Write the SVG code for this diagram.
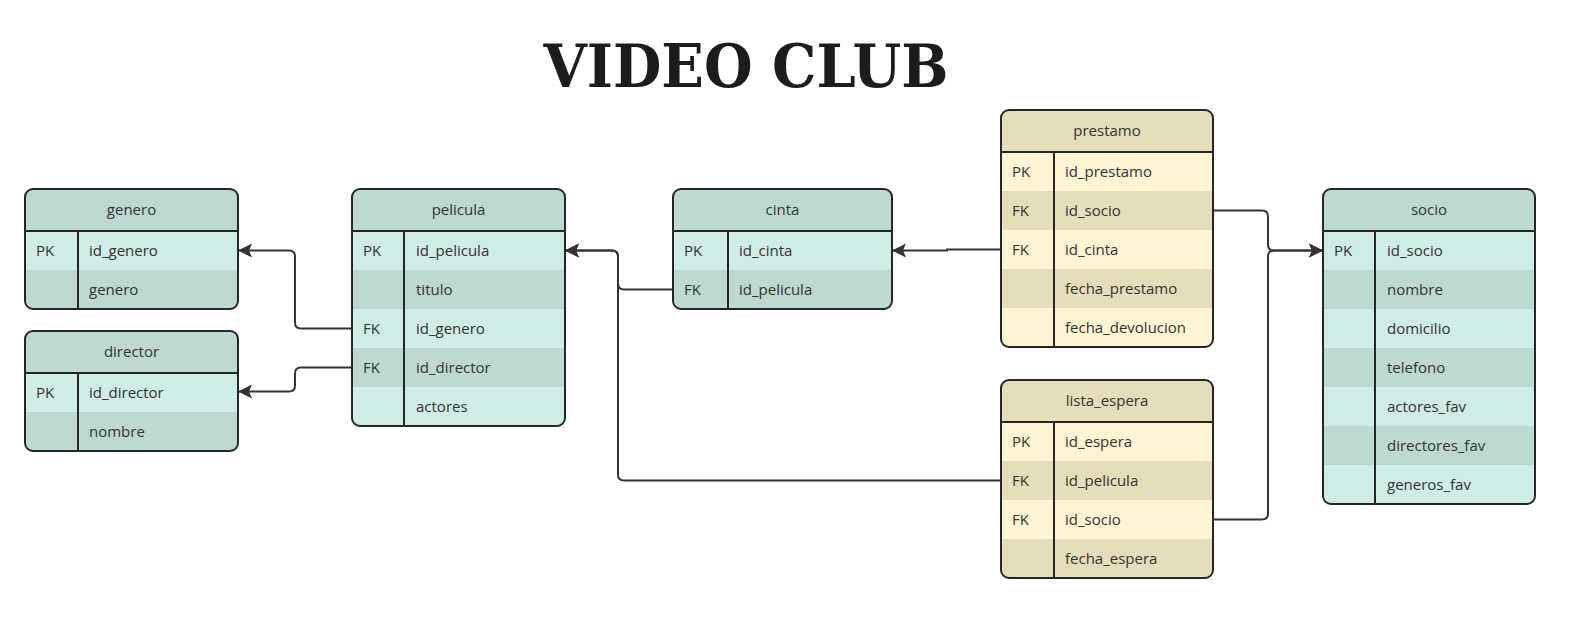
<svg xmlns="http://www.w3.org/2000/svg" width="1593" height="627" viewBox="0 0 1593 627">
<style>
.hdT{fill:#bdd9d2}.lT{fill:#cfece6}.dT{fill:#bdd9d2}
.hdY{fill:#e6ddbb}.lY{fill:#fff4d3}.dY{fill:#e6ddbb}
.frame{fill:none;stroke:#262626;stroke-width:2}
.sep{stroke:#262626;stroke-width:2}
.t{font-family:"Open Sans","Noto Sans",sans-serif;font-size:15px;fill:#333}
.h{text-anchor:middle}
.con{fill:none;stroke:#333;stroke-width:2;marker-end:url(#arr)}
.title{font-family:"DejaVu Serif",serif;font-weight:bold;font-size:60px;fill:#1c1c1c}
</style>
<defs>
<marker id="arr" markerUnits="userSpaceOnUse" markerWidth="16" markerHeight="16" refX="14" refY="8" orient="auto">
<path d="M0,1 L14,8 L0,15 L3,8 z" fill="#333"/>
</marker>
<clipPath id="cGenero"><rect x="25" y="189" width="213" height="120" rx="8"/></clipPath>
<clipPath id="cDirector"><rect x="25" y="331" width="213" height="120" rx="8"/></clipPath>
<clipPath id="cPelicula"><rect x="352" y="189" width="213" height="237" rx="8"/></clipPath>
<clipPath id="cCinta"><rect x="673" y="189" width="219" height="120" rx="8"/></clipPath>
<clipPath id="cPrestamo"><rect x="1001" y="110" width="212" height="237" rx="8"/></clipPath>
<clipPath id="cLista"><rect x="1001" y="380" width="212" height="198" rx="8"/></clipPath>
<clipPath id="cSocio"><rect x="1323" y="189" width="212" height="315" rx="8"/></clipPath>
</defs>
<rect width="1593" height="627" fill="#fff"/>
<text class="title" x="746" y="87" text-anchor="middle" textLength="405" lengthAdjust="spacingAndGlyphs">VIDEO CLUB</text>

<g id="connectors">
<path class="con" d="M352,328.5 H301 Q295,328.5 295,322.5 V256.5 Q295,250.5 289,250.5 H238"/>
<path class="con" d="M352,367.5 H301 Q295,367.5 295,373.5 V385.5 Q295,391.5 289,391.5 H238"/>
<path class="con" d="M673,289.5 H624 Q618,289.5 618,283.5 V256.5 Q618,250.5 612,250.5 H565"/>
<path class="con" d="M1001,480.5 H624 Q618,480.5 618,474.5 V256.5 Q618,250.5 612,250.5 H565"/>
<path class="con" d="M1001,249.5 H947 V250.5 H892"/>
<path class="con" d="M1213,210.5 H1262 Q1268,210.5 1268,216.5 V244.5 Q1268,250.5 1274,250.5 H1323"/>
<path class="con" d="M1213,519.5 H1262 Q1268,519.5 1268,513.5 V256.5 Q1268,250.5 1274,250.5 H1323"/>
</g>

<g id="genero">
<g clip-path="url(#cGenero)">
<rect class="hdT" x="25" y="189" width="213" height="42"/>
<rect class="lT" x="25" y="231" width="213" height="39"/>
<rect class="dT" x="25" y="270" width="213" height="39"/>
</g>
<rect class="frame" x="25" y="189" width="213" height="120" rx="8"/>
<line class="sep" x1="25" y1="231" x2="238" y2="231"/>
<line class="sep" x1="78" y1="231" x2="78" y2="309"/>
<text class="t h" x="131.5" y="215">genero</text>
<text class="t" x="36" y="255.5">PK</text><text class="t" x="89" y="255.5">id_genero</text>
<text class="t" x="89" y="294.5">genero</text>
</g>

<g id="director">
<g clip-path="url(#cDirector)">
<rect class="hdT" x="25" y="331" width="213" height="42"/>
<rect class="lT" x="25" y="373" width="213" height="39"/>
<rect class="dT" x="25" y="412" width="213" height="39"/>
</g>
<rect class="frame" x="25" y="331" width="213" height="120" rx="8"/>
<line class="sep" x1="25" y1="373" x2="238" y2="373"/>
<line class="sep" x1="78" y1="373" x2="78" y2="451"/>
<text class="t h" x="131.5" y="357">director</text>
<text class="t" x="36" y="397.5">PK</text><text class="t" x="89" y="397.5">id_director</text>
<text class="t" x="89" y="436.5">nombre</text>
</g>

<g id="pelicula">
<g clip-path="url(#cPelicula)">
<rect class="hdT" x="352" y="189" width="213" height="42"/>
<rect class="lT" x="352" y="231" width="213" height="39"/>
<rect class="dT" x="352" y="270" width="213" height="39"/>
<rect class="lT" x="352" y="309" width="213" height="39"/>
<rect class="dT" x="352" y="348" width="213" height="39"/>
<rect class="lT" x="352" y="387" width="213" height="39"/>
</g>
<rect class="frame" x="352" y="189" width="213" height="237" rx="8"/>
<line class="sep" x1="352" y1="231" x2="565" y2="231"/>
<line class="sep" x1="404" y1="231" x2="404" y2="426"/>
<text class="t h" x="458.5" y="215">pelicula</text>
<text class="t" x="363" y="255.5">PK</text><text class="t" x="416" y="255.5">id_pelicula</text>
<text class="t" x="416" y="294.5">titulo</text>
<text class="t" x="363" y="333.5">FK</text><text class="t" x="416" y="333.5">id_genero</text>
<text class="t" x="363" y="372.5">FK</text><text class="t" x="416" y="372.5">id_director</text>
<text class="t" x="416" y="411.5">actores</text>
</g>

<g id="cinta">
<g clip-path="url(#cCinta)">
<rect class="hdT" x="673" y="189" width="219" height="42"/>
<rect class="lT" x="673" y="231" width="219" height="39"/>
<rect class="dT" x="673" y="270" width="219" height="39"/>
</g>
<rect class="frame" x="673" y="189" width="219" height="120" rx="8"/>
<line class="sep" x1="673" y1="231" x2="892" y2="231"/>
<line class="sep" x1="728" y1="231" x2="728" y2="309"/>
<text class="t h" x="782.5" y="215">cinta</text>
<text class="t" x="684" y="255.5">PK</text><text class="t" x="739" y="255.5">id_cinta</text>
<text class="t" x="684" y="294.5">FK</text><text class="t" x="739" y="294.5">id_pelicula</text>
</g>

<g id="prestamo">
<g clip-path="url(#cPrestamo)">
<rect class="hdY" x="1001" y="110" width="212" height="42"/>
<rect class="lY" x="1001" y="152" width="212" height="39"/>
<rect class="dY" x="1001" y="191" width="212" height="39"/>
<rect class="lY" x="1001" y="230" width="212" height="39"/>
<rect class="dY" x="1001" y="269" width="212" height="39"/>
<rect class="lY" x="1001" y="308" width="212" height="39"/>
</g>
<rect class="frame" x="1001" y="110" width="212" height="237" rx="8"/>
<line class="sep" x1="1001" y1="152" x2="1213" y2="152"/>
<line class="sep" x1="1054" y1="152" x2="1054" y2="347"/>
<text class="t h" x="1107" y="136">prestamo</text>
<text class="t" x="1012" y="176.5">PK</text><text class="t" x="1065" y="176.5">id_prestamo</text>
<text class="t" x="1012" y="215.5">FK</text><text class="t" x="1065" y="215.5">id_socio</text>
<text class="t" x="1012" y="254.5">FK</text><text class="t" x="1065" y="254.5">id_cinta</text>
<text class="t" x="1065" y="293.5">fecha_prestamo</text>
<text class="t" x="1065" y="332.5">fecha_devolucion</text>
</g>

<g id="lista_espera">
<g clip-path="url(#cLista)">
<rect class="hdY" x="1001" y="380" width="212" height="42"/>
<rect class="lY" x="1001" y="422" width="212" height="39"/>
<rect class="dY" x="1001" y="461" width="212" height="39"/>
<rect class="lY" x="1001" y="500" width="212" height="39"/>
<rect class="dY" x="1001" y="539" width="212" height="39"/>
</g>
<rect class="frame" x="1001" y="380" width="212" height="198" rx="8"/>
<line class="sep" x1="1001" y1="422" x2="1213" y2="422"/>
<line class="sep" x1="1054" y1="422" x2="1054" y2="578"/>
<text class="t h" x="1107" y="406">lista_espera</text>
<text class="t" x="1012" y="446.5">PK</text><text class="t" x="1065" y="446.5">id_espera</text>
<text class="t" x="1012" y="485.5">FK</text><text class="t" x="1065" y="485.5">id_pelicula</text>
<text class="t" x="1012" y="524.5">FK</text><text class="t" x="1065" y="524.5">id_socio</text>
<text class="t" x="1065" y="563.5">fecha_espera</text>
</g>

<g id="socio">
<g clip-path="url(#cSocio)">
<rect class="hdT" x="1323" y="189" width="212" height="42"/>
<rect class="lT" x="1323" y="231" width="212" height="39"/>
<rect class="dT" x="1323" y="270" width="212" height="39"/>
<rect class="lT" x="1323" y="309" width="212" height="39"/>
<rect class="dT" x="1323" y="348" width="212" height="39"/>
<rect class="lT" x="1323" y="387" width="212" height="39"/>
<rect class="dT" x="1323" y="426" width="212" height="39"/>
<rect class="lT" x="1323" y="465" width="212" height="39"/>
</g>
<rect class="frame" x="1323" y="189" width="212" height="315" rx="8"/>
<line class="sep" x1="1323" y1="231" x2="1535" y2="231"/>
<line class="sep" x1="1375" y1="231" x2="1375" y2="504"/>
<text class="t h" x="1429" y="215">socio</text>
<text class="t" x="1334" y="255.5">PK</text><text class="t" x="1387" y="255.5">id_socio</text>
<text class="t" x="1387" y="294.5">nombre</text>
<text class="t" x="1387" y="333.5">domicilio</text>
<text class="t" x="1387" y="372.5">telefono</text>
<text class="t" x="1387" y="411.5">actores_fav</text>
<text class="t" x="1387" y="450.5">directores_fav</text>
<text class="t" x="1387" y="489.5">generos_fav</text>
</g>
</svg>
